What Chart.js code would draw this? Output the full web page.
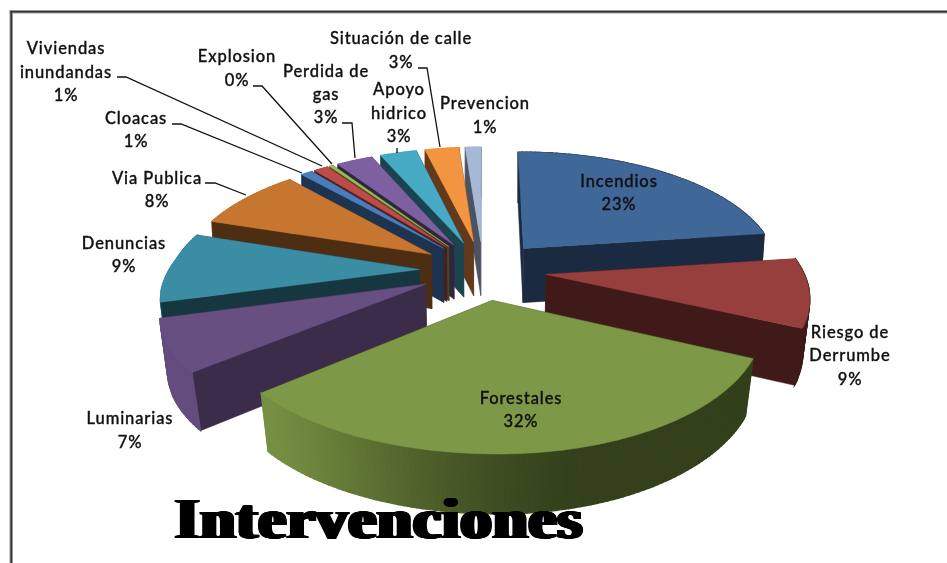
<!DOCTYPE html>
<html><head><meta charset="utf-8">
<style>html,body{margin:0;padding:0;background:#fff}canvas{display:block;filter:blur(0.45px)}</style>
<script src="https://cdn.jsdelivr.net/npm/chart.js@4"></script></head>
<body><canvas id="c" width="947" height="563"></canvas>
<script>
const categories=["Incendios","Riesgo de Derrumbe","Forestales","Luminarias","Denuncias","Via Publica","Cloacas","Viviendas inundandas","Explosion","Perdida de gas","Apoyo hidrico","Situación de calle","Prevencion"];
const values=[23,9,32,7,9.4,8.4,0.9,1.1,0.3,2.8,2.8,2.6,1.2];
const percentLabels=["23%","9%","32%","7%","9%","8%","1%","1%","0%","3%","3%","3%","1%"];
const topColors=["#3F6797","#973F3D","#7D9846","#674F82","#3B8DA4","#C7762F","#4A7EBB","#BE4B48","#98B954","#7D60A0","#46AAC5","#F39440","#A7B8D6"];
const sideColors=["#1A2A40","#401A18","#33401B","#3B2C4A","#173740","#4E2E13","#1E3350","#4B1D1C","#3C4A20","#312440","#1C4450","#62391A","#4B5363"];
const titleText="Intervenciones";

const view={cx:483,cy:270,a:253,b:118,k:0.16,m:-0.01,skew:14,explode:0.25,depth:55};
const labelLines=[
 {i:0,x:619,y:[181,204],lines:["Incendios"]},
 {i:1,x:850,y:[332,355,379],lines:["Riesgo de","Derrumbe"]},
 {i:2,x:521,y:[398,421],lines:["Forestales"]},
 {i:3,x:130,y:[418,442],lines:["Luminarias"]},
 {i:4,x:124,y:[243,266],lines:["Denuncias"]},
 {i:5,x:157,y:[178,201],lines:["Via Publica"]},
 {i:6,x:136,y:[118,141],lines:["Cloacas"]},
 {i:7,x:66,y:[48,72,95],lines:["Viviendas","inundandas"]},
 {i:8,x:237,y:[56,80],lines:["Explosion"]},
 {i:9,x:326,y:[71,94,117],lines:["Perdida de","gas"]},
 {i:10,x:399,y:[89,113,136],lines:["Apoyo","hidrico"]},
 {i:11,x:401,y:[38,62],lines:["Situación de calle"]},
 {i:12,x:485,y:[103,127],lines:["Prevencion"]}
];
const leaders=[
 [[117,77],[126,77],[322,166]],
 [[172,124],[181,124],[302,173]],
 [[253,86],[262,86],[332,164]],
 [[342,123],[352,123],[355,158]],
 [[397,148],[397,153]],
 [[418,68],[427,68],[440,147]],
 [[205,183],[215,183],[246,195]]
];

function project(u,v){
  const w=1+view.k*v+view.m*u;
  const dx=u<0?view.skew*u*Math.max(0,0.1-v):0;
  return {x:view.cx+view.a*u/w+dx,y:view.cy-view.b*v/w,v};
}
function lower(p){const s=0.982+0.015*p.v;return {x:view.cx+(p.x-view.cx)*s,y:p.y+view.depth-4*p.v};}
function hex(c){return [1,3,5].map(i=>parseInt(c.substr(i,2),16));}
function mix(a,b,t){const A=hex(a),B=hex(b);return `rgb(${A.map((x,i)=>Math.round(x+(B[i]-x)*t)).join(",")})`;}
function area(q){let s=0;q.forEach((p,i)=>{const n=q[(i+1)%q.length];s+=p.x*n.y-n.x*p.y;});return s/2;}
function poly(ctx,q,fill,lw){ctx.beginPath();q.forEach((p,i)=>i?ctx.lineTo(p.x,p.y):ctx.moveTo(p.x,p.y));ctx.closePath();ctx.fillStyle=fill;ctx.strokeStyle=fill;ctx.lineWidth=lw;ctx.fill();ctx.stroke();}

const pie3d={id:'pie3d',
 beforeDatasetDraw(chart,args){
  const ctx=chart.ctx,arcs=chart.getDatasetMeta(0).data;
  const slices=arcs.map((arc,i)=>{
    const t0=arc.startAngle+Math.PI/2,t1=arc.endAngle+Math.PI/2,mid=(t0+t1)/2;
    const ou=view.explode*Math.sin(mid),ov=view.explode*Math.cos(mid);
    const n=Math.max(2,Math.ceil((t1-t0)/0.02));
    const pts=[project(ou,ov)],thetas=[null];
    for(let j=0;j<=n;j++){const t=t0+(t1-t0)*j/n;pts.push(project(ou+Math.sin(t),ov+Math.cos(t)));thetas.push(t);}
    return {i,pts,thetas,depth:ov+0.5*Math.cos(mid)};
  });
  slices.sort((a,b)=>b.depth-a.depth);
  ctx.save();
  for(const s of slices){
    const low=s.pts.map(lower),sign=Math.sign(area(s.pts)),back=[],front=[];
    s.pts.forEach((p,j)=>{
      const m=(j+1)%s.pts.length,q=[p,s.pts[m],low[m],low[j]];
      const radial=(j===0||m===0);
      let col=sideColors[s.i];
      if(!radial){const deg=(s.thetas[j]+s.thetas[m])/2*180/Math.PI;
        const t=Math.min(1,Math.max(0,(deg-160)/(235-160)));
        col=mix(sideColors[s.i],topColors[s.i],t*t*(3-2*t)*0.93);}
      (Math.sign(area(q))===sign?back:front).push([q,col,radial]);
    });
    back.concat(front).forEach(([q,c,r])=>poly(ctx,q,c,r?0.5:1.2));
    poly(ctx,s.pts,topColors[s.i],0.5);
  }
  ctx.restore();
  return false;
 },
 afterDraw(chart){
  const ctx=chart.ctx;ctx.save();
  ctx.strokeStyle="#111";ctx.lineWidth=1.3;
  leaders.forEach(l=>{ctx.beginPath();l.forEach((p,i)=>i?ctx.lineTo(p[0],p[1]):ctx.moveTo(p[0],p[1]));ctx.stroke();});
  ctx.fillStyle="#111";ctx.strokeStyle="#111";ctx.lineWidth=0.35;ctx.textAlign="center";ctx.textBaseline="middle";
  ctx.font="500 16.5px Lato";ctx.letterSpacing="0.9px";
  labelLines.forEach(l=>{
    const t=l.lines.concat(percentLabels[l.i]);
    t.forEach((s,j)=>{ctx.fillText(s,l.x,l.y[j]+1);ctx.strokeText(s,l.x,l.y[j]+1);});
  });
  ctx.letterSpacing="0px";
  // frame
  ctx.fillStyle="#999";ctx.fillRect(9.5,10,938,3.5);ctx.fillRect(9.5,10,3.5,553);
  ctx.fillStyle="#333";ctx.fillRect(10.5,11,937,1.5);ctx.fillRect(10.5,11,1.5,552);
  // title
  ctx.fillStyle="#000";ctx.textAlign="left";ctx.textBaseline="alphabetic";
  ctx.font="bold 60px 'Liberation Serif'";ctx.letterSpacing="1px";
  const w=ctx.measureText(titleText).width;
  ctx.translate(175,538);ctx.scale(408/w,0.95);
  for(let dx=-2.5;dx<=2.5;dx+=0.5)ctx.fillText(titleText,dx,0);
  ctx.restore();
 }
};
new Chart(document.getElementById('c'),{
 type:'pie',
 data:{labels:categories,datasets:[{data:values,backgroundColor:topColors}]},
 options:{responsive:false,animation:false,plugins:{legend:{display:false},tooltip:{enabled:false}}},
 plugins:[pie3d]
});
</script></body></html>
